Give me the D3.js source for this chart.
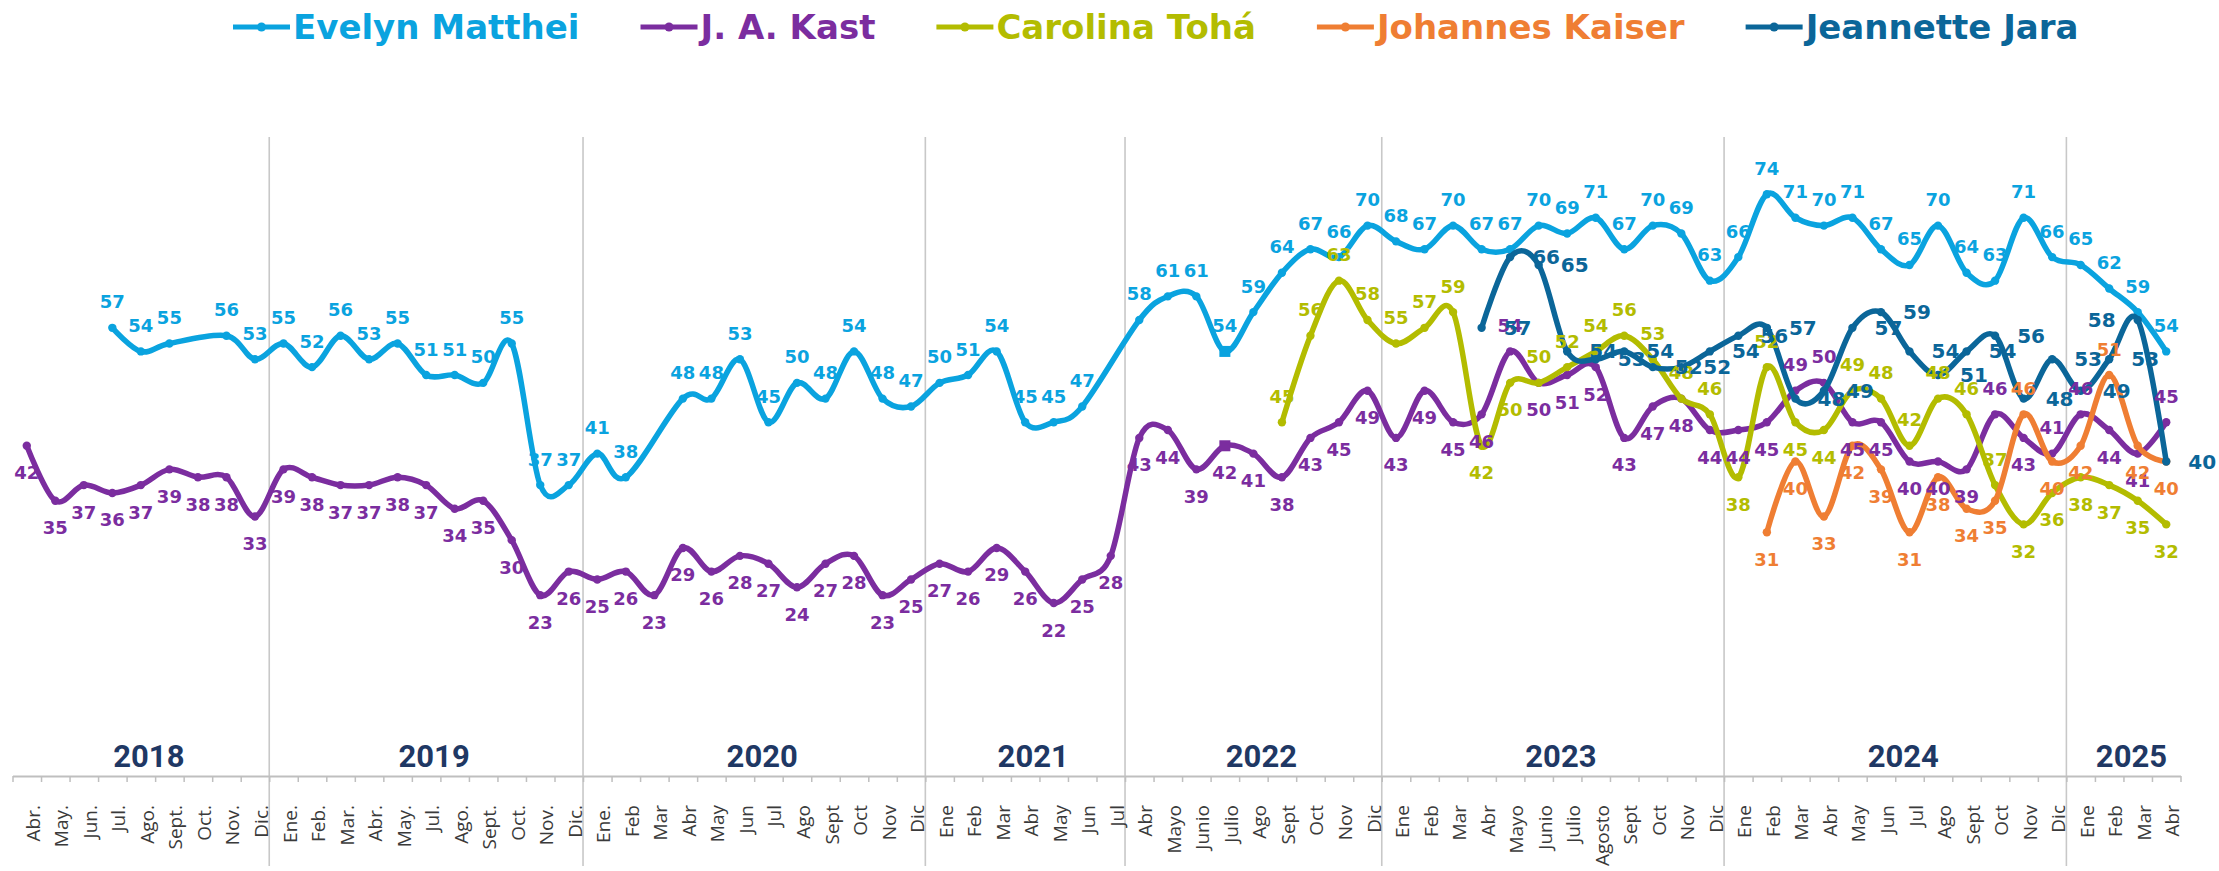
<!DOCTYPE html>
<html><head><meta charset="utf-8">
<script src="https://cdn.jsdelivr.net/npm/d3@7"></script>
<style>html,body{margin:0;padding:0;background:#fff}svg{display:block}</style>
</head><body>
<svg id="chart" width="2219" height="871"></svg>
<script>
// ---------------- DATA ----------------
const months = [
  "Abr.","May.","Jun.","Jul.","Ago.","Sept.","Oct.","Nov.","Dic.",
  "Ene.","Feb.","Mar.","Abr.","May.","Jul.","Ago.","Sept.","Oct.","Nov.","Dic.",
  "Ene.","Feb","Mar","Abr","May","Jun","Jul","Ago","Sept","Oct","Nov","Dic",
  "Ene","Feb","Mar","Abr","May","Jun","Jul",
  "Abr","Mayo","Junio","Julio","Ago","Sept","Oct","Nov","Dic",
  "Ene","Feb","Mar","Abr","Mayo","Junio","Julio","Agosto","Sept","Oct","Nov","Dic",
  "Ene","Feb","Mar","Abr","May","Jun","Jul","Ago","Sept","Oct","Nov","Dic",
  "Ene","Feb","Mar","Abr"
];
const yearLabels = ["2018","2019","2020","2021","2022","2023","2024","2025"];
const yearMonthCounts = [9, 11, 12, 7, 9, 12, 12, 4];

const seriesNames = ["Evelyn Matthei","J. A. Kast","Carolina Tohá","Johannes Kaiser","Jeannette Jara"];

const matthei = [
  null,null,null,57,54,55,null,56,53,
  55,52,56,53,55,51,51,50,55,37,37,
  41,38,null,48,48,53,45,50,48,54,48,47,
  50,51,54,45,45,47,null,
  58,61,61,54,59,64,67,66,70,
  68,67,70,67,67,70,69,71,67,70,69,63,
  66,74,71,70,71,67,65,70,64,63,71,66,
  65,62,59,54
];
const kast = [
  42,35,37,36,37,39,38,38,33,
  39,38,37,37,38,37,34,35,30,23,26,
  25,26,23,29,26,28,27,24,27,28,23,25,
  27,26,29,26,22,25,28,
  43,44,39,42,41,38,43,45,49,
  43,49,45,46,54,50,51,52,43,47,48,44,
  44,45,49,50,45,45,40,40,39,46,43,41,
  46,44,41,45
];
const toha = [
  null,null,null,null,null,null,null,null,null,
  null,null,null,null,null,null,null,null,null,null,null,
  null,null,null,null,null,null,null,null,null,null,null,null,
  null,null,null,null,null,null,null,
  null,null,null,null,null,45,56,63,58,
  55,57,59,42,50,50,52,54,56,53,48,46,
  38,52,45,44,49,48,42,48,46,37,32,36,
  38,37,35,32
];
const kaiser = [
  null,null,null,null,null,null,null,null,null,
  null,null,null,null,null,null,null,null,null,null,null,
  null,null,null,null,null,null,null,null,null,null,null,null,
  null,null,null,null,null,null,null,
  null,null,null,null,null,null,null,null,null,
  null,null,null,null,null,null,null,null,null,null,null,null,
  null,31,40,33,42,39,31,38,34,35,46,40,
  42,51,42,40
];
const jara = [
  null,null,null,null,null,null,null,null,null,
  null,null,null,null,null,null,null,null,null,null,null,
  null,null,null,null,null,null,null,null,null,null,null,null,
  null,null,null,null,null,null,null,
  null,null,null,null,null,null,null,null,null,
  null,null,null,57,66,65,54,53,54,52,52,54,
  56,57,48,49,57,59,54,51,54,56,48,53,
  49,53,58,40
];

// ---------------- STYLE / LAYOUT ----------------
const colors = ["#0aa3df","#7b2d9f","#b3bc00","#ef7e33","#0b6699"];
const seriesValues = [matthei, kast, toha, kaiser, jara];
const defaultPlacement = ["above","below","above","below","right"];
const placementOverrides = [
  {},
  {above:[52,62,63,69,71,72,75]},
  {below:[51,52,60,62,63,70,71,72,73,74,75]},
  {above:[70,73]},
  {left:[74]}
];
const squareMarkerIndex = 42;

const W = 2219, H = 871;
const svg = d3.select("#chart");
svg.append("rect").attr("width", W).attr("height", H).attr("fill", "#fff");

const xLeft = 12.5, xRight = 2180.5;
const x = d3.scaleBand().domain(d3.range(months.length)).range([xLeft, xRight]).padding(0);
const xb = d3.scaleLinear().domain([0, months.length]).range([xLeft, xRight]);
const cx = i => x(i) + x.bandwidth() / 2;
const y = d3.scaleLinear().domain([0, 80]).range([776, 147]);
const axisY = 776;

// year separators
const boundaries = d3.cumsum(yearMonthCounts);
svg.append("g").selectAll("line")
  .data(boundaries.slice(0, -1))
  .join("line")
  .attr("x1", d => xb(d)).attr("x2", d => xb(d))
  .attr("y1", 137).attr("y2", 866)
  .attr("stroke", "#c8c8c8").attr("stroke-width", 1.6);

// axis with ticks at category boundaries
const axis = d3.axisBottom(xb).tickValues(d3.range(months.length + 1)).tickFormat("").tickSize(6).tickSizeOuter(0);
const gAxis = svg.append("g").attr("transform", `translate(0,${axisY})`).call(axis);
gAxis.select(".domain").attr("stroke", "#bfbfbf").attr("stroke-width", 2.2);
gAxis.selectAll(".tick line").attr("stroke", "#bfbfbf").attr("stroke-width", 1.5);

// month labels
svg.append("g").selectAll("text")
  .data(months)
  .join("text")
  .attr("transform", (d, i) => `translate(${cx(i) + 6},805) rotate(-90)`)
  .attr("text-anchor", "end")
  .attr("dominant-baseline", "central")
  .attr("font-family", "'Open Sans', sans-serif")
  .attr("font-size", 19)
  .attr("fill", "#3a3a3a")
  .text(d => d);

// year labels
const starts = [0, ...boundaries.slice(0, -1)];
svg.append("g").selectAll("text")
  .data(yearLabels)
  .join("text")
  .attr("x", (d, k) => (xb(starts[k]) + xb(boundaries[k])) / 2 + 8)
  .attr("y", 767)
  .attr("text-anchor", "middle")
  .attr("font-family", "Roboto, sans-serif")
  .attr("font-weight", 700)
  .attr("font-size", 31)
  .attr("fill", "#1f3864")
  .text(d => d);

// lines
const line = d3.line().x(d => cx(d.i)).y(d => y(d.v)).curve(d3.curveCardinal.tension(0));
const pts = seriesValues.map(vals => vals.map((v, i) => ({i, v})).filter(d => d.v !== null));

const gLines = svg.append("g");
pts.forEach((p, s) => {
  const g = gLines.append("g");
  g.append("path").datum(p).attr("d", line)
    .attr("fill", "none").attr("stroke", colors[s]).attr("stroke-width", 5.5)
    .attr("stroke-linejoin", "round").attr("stroke-linecap", "round");
  g.selectAll("circle").data(p.filter(d => !(s < 2 && d.i === squareMarkerIndex)))
    .join("circle")
    .attr("cx", d => cx(d.i)).attr("cy", d => y(d.v)).attr("r", 4.2)
    .attr("fill", colors[s]);
  g.selectAll("rect").data(p.filter(d => s < 2 && d.i === squareMarkerIndex))
    .join("rect")
    .attr("x", d => cx(d.i) - 5.5).attr("y", d => y(d.v) - 5.5)
    .attr("width", 11).attr("height", 11).attr("fill", colors[s]);
});

// data labels
const gLabels = svg.append("g");
pts.forEach((p, s) => {
  const ov = placementOverrides[s];
  const place = i => {
    for (const k in ov) if (ov[k].includes(i)) return k;
    return defaultPlacement[s];
  };
  gLabels.append("g").selectAll("text").data(p).join("text")
    .attr("x", d => { const pl = place(d.i); return cx(d.i) + (pl === "right" ? 36 : pl === "left" ? -36 : 0); })
    .attr("y", d => { const pl = place(d.i); return y(d.v) + (pl === "above" ? -26 : pl === "below" ? 27 : 0); })
    .attr("text-anchor", "middle")
    .attr("dominant-baseline", "central")
    .attr("font-family", "'DejaVu Sans', sans-serif")
    .attr("font-weight", 700)
    .attr("font-size", s === 4 ? 20 : 18)
    .attr("fill", colors[s])
    .text(d => d.v);
});

// legend
const gLeg = svg.append("g");
let lx = 233;
seriesNames.forEach((name, s) => {
  const g = gLeg.append("g");
  g.append("line").attr("x1", lx).attr("x2", lx + 57).attr("y1", 27).attr("y2", 27)
    .attr("stroke", colors[s]).attr("stroke-width", 5);
  g.append("circle").attr("cx", lx + 28.5).attr("cy", 27).attr("r", 4.5).attr("fill", colors[s]);
  const t = g.append("text").attr("x", lx + 60).attr("y", 39)
    .attr("font-family", "'DejaVu Sans', sans-serif").attr("font-weight", 700)
    .attr("font-size", 34).attr("fill", colors[s]).text(name);
  lx += 60 + t.node().getComputedTextLength() + 61;
});
</script>
</body></html>
